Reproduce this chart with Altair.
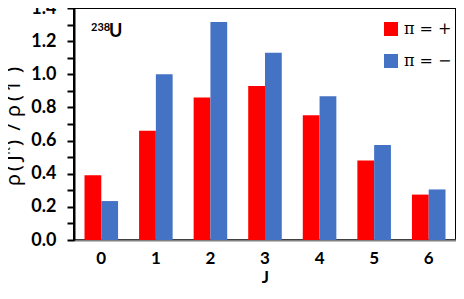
import altair as alt
import pandas as pd

J = ["0", "1", "2", "3", "4", "5", "6"]
pos_vals = [0.39, 0.66, 0.86, 0.93, 0.753, 0.48, 0.274]
neg_vals = [0.235, 1.00, 1.315, 1.13, 0.868, 0.574, 0.305]
series = ["π = +", "π = −"]
colors = ["#ff0000", "#4472c4"]
y_ticks = [0.0, 0.1, 0.2, 0.3, 0.4, 0.5, 0.6, 0.7, 0.8, 0.9, 1.0, 1.1, 1.2, 1.3, 1.4]

rows = []
for j, p, n in zip(J, pos_vals, neg_vals):
    rows.append({"J": j, "parity": series[0], "value": p})
    rows.append({"J": j, "parity": series[1], "value": n})
df = pd.DataFrame(rows)
one = pd.DataFrame({"k": [0]})

LABEL_FONT = "Lato"
W, H = 382, 232

bars = alt.Chart(df).mark_bar().encode(
    x=alt.X("J:N", sort=J,
            scale=alt.Scale(paddingInner=0.385, paddingOuter=0.1925),
            axis=alt.Axis(title="J", labelAngle=0, ticks=False,
                          domainColor="#808080", domainWidth=2,
                          labelFont=LABEL_FONT, labelFontWeight="bold",
                          labelFontSize=17, labelColor="black", labelPadding=10,
                          titleFont=LABEL_FONT, titleFontWeight="bold",
                          titleFontSize=17, titleColor="black", titlePadding=3)),
    xOffset=alt.XOffset("parity:N", sort=series,
                        scale=alt.Scale(paddingInner=0, paddingOuter=0)),
    y=alt.Y("value:Q",
            scale=alt.Scale(domain=[0, 1.4], nice=False, zero=True),
            axis=alt.Axis(title=None, values=y_ticks, grid=False,
                          labelExpr="round(datum.value*10) % 2 == 0 ? format(datum.value, '.1f') : ''",
                          domainColor="black", domainWidth=2,
                          tickColor="black", tickWidth=2, tickSize=7,
                          labelFont=LABEL_FONT, labelFontWeight="bold",
                          labelFontSize=18, labelColor="black", labelPadding=11)),
    color=alt.Color("parity:N", sort=series,
                    scale=alt.Scale(domain=series, range=colors),
                    legend=alt.Legend(title=None, orient="none", legendX=309, legendY=13,
                                      symbolType="square", symbolSize=196,
                                      symbolStrokeWidth=0, symbolOpacity=1,
                                      labelFont="DejaVu Serif", labelFontSize=16,
                                      labelColor="black", labelOffset=5,
                                      rowPadding=16, padding=0)),
)

layers = [bars]

# rotated y-axis title with superscripts: (glyph, centre y in px, superscript?)
title_glyphs = [
    ("ρ", 172, False), ("(", 160, False), ("J", 150, False), ("π", 143, True),
    (")", 135, False), ("/", 119, False), ("ρ", 103, False), ("(", 90, False),
    ("1", 78, False), ("−", 70, True), (")", 62, False),
]
for ch, yy, sup in title_glyphs:
    layers.append(
        alt.Chart(one).mark_text(
            text=ch, angle=270, align="center", baseline="alphabetic",
            font="Noto Sans", fontSize=12 if sup else 20, color="black",
        ).encode(x=alt.value(-64 if sup else -54), y=alt.value(yy))
    )

# 238U annotation
layers.append(alt.Chart(one).mark_text(
    text="238", align="left", baseline="alphabetic", font=LABEL_FONT,
    fontWeight="bold", fontSize=11, color="black").encode(x=alt.value(17), y=alt.value(23)))
layers.append(alt.Chart(one).mark_text(
    text="U", align="left", baseline="alphabetic", font=LABEL_FONT,
    fontWeight="bold", fontSize=18, color="black").encode(x=alt.value(35), y=alt.value(29)))

chart = alt.layer(*layers).properties(
    width=W, height=H,
    autosize=alt.AutoSizeParams(type="none"),
    padding={"left": 66, "top": 0, "right": 0, "bottom": 46},
).configure_view(stroke="black", strokeWidth=2)

chart.save("out.html", embed_options={"renderer": "svg", "actions": False})
